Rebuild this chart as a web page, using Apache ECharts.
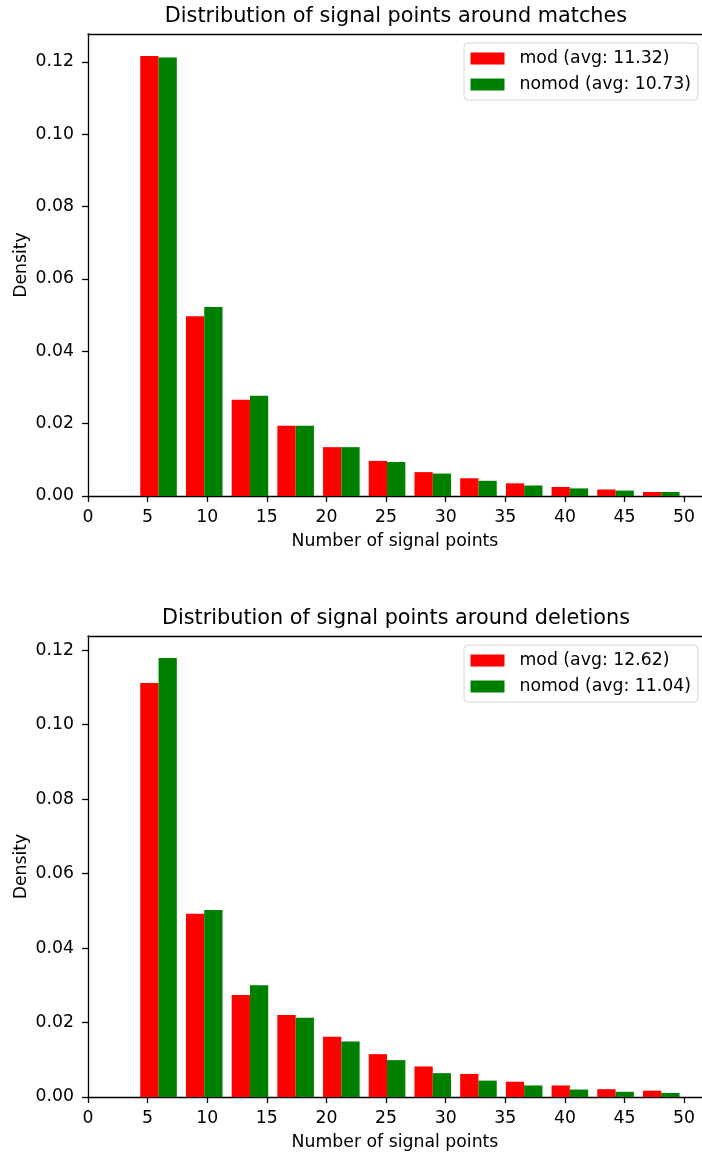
<!DOCTYPE html>
<html>
<head>
<meta charset="utf-8">
<script src="https://cdn.jsdelivr.net/npm/echarts@6/dist/echarts.min.js"></script>
<style>
  html, body { margin: 0; padding: 0; background: #ffffff; overflow: hidden; }
  #chart { width: 702px; height: 1153px; }
</style>
</head>
<body>
<div id="chart"></div>
<script>
// Histogram bin edges (12 bins from 4 to 50)
const binEdges = [4, 7.833, 11.667, 15.5, 19.333, 23.167, 27, 30.833, 34.667, 38.5, 42.333, 46.167, 50];

// Density per bin, around matches
const matchesMod   = [0.1216, 0.0497, 0.0266, 0.0194, 0.0135, 0.0097, 0.0066, 0.0049, 0.0035, 0.0025, 0.0018, 0.0011];
const matchesNomod = [0.1212, 0.0522, 0.0277, 0.0194, 0.0135, 0.0094, 0.0062, 0.0042, 0.0029, 0.0021, 0.0015, 0.0011];

// Density per bin, around deletions
const deletionsMod   = [0.1112, 0.0492, 0.0274, 0.0220, 0.0162, 0.0115, 0.0082, 0.0062, 0.0041, 0.0031, 0.0021, 0.0017];
const deletionsNomod = [0.1179, 0.0502, 0.0300, 0.0213, 0.0149, 0.0099, 0.0064, 0.0044, 0.0031, 0.0020, 0.0014, 0.0011];

const xTicks = [0, 5, 10, 15, 20, 25, 30, 35, 40, 45, 50];
const yTicks = [0, 0.02, 0.04, 0.06, 0.08, 0.10, 0.12];

const titles = ['Distribution of signal points around matches', 'Distribution of signal points around deletions'];
const legendMatches   = ['mod (avg: 11.32)', 'nomod (avg: 10.73)'];
const legendDeletions = ['mod (avg: 12.62)', 'nomod (avg: 11.04)'];

const FONT = 'DejaVu Sans';
const RED = '#ff0000';
const GREEN = '#008000';
const X_MAX = 51.5;

// Two side-by-side bars per bin, together filling 80% of the bin, centred
function barsFor(values, slot) {
  return values.map(function (v, i) {
    const a = binEdges[i], b = binEdges[i + 1], w = b - a;
    const start = a + w * (0.1 + 0.4 * slot);
    return [start, start + w * 0.4, v];
  });
}

function renderBar(params, api) {
  const top = api.coord([api.value(0), api.value(2)]);
  const base = api.coord([api.value(1), 0]);
  return {
    type: 'rect',
    shape: { x: top[0], y: top[1], width: base[0] - top[0], height: base[1] - top[1] },
    style: api.style()
  };
}

const tickStyle = { show: true, length: 6, lineStyle: { color: '#000', width: 1.3 } };
const lineStyle = { show: true, lineStyle: { color: '#000', width: 1.3 } };
const labelFont = { fontFamily: FONT, fontSize: 17.3, color: '#000' };

function bottomX(gridIndex) {
  return {
    type: 'value', gridIndex: gridIndex, position: 'bottom',
    min: 0, max: X_MAX,
    name: 'Number of signal points', nameLocation: 'middle', nameGap: 37,
    nameMoveOverlap: false,
    nameTextStyle: labelFont,
    axisLine: lineStyle,
    axisTick: Object.assign({ customValues: xTicks }, tickStyle),
    axisLabel: Object.assign({ customValues: xTicks, margin: 13 }, labelFont),
    splitLine: { show: false }
  };
}
function topX(gridIndex) {
  return {
    type: 'value', gridIndex: gridIndex, position: 'top',
    min: 0, max: X_MAX,
    axisLine: lineStyle, axisTick: { show: false }, axisLabel: { show: false },
    splitLine: { show: false }
  };
}
function leftY(gridIndex, maxVal) {
  return {
    type: 'value', gridIndex: gridIndex,
    min: 0, max: maxVal * 1.05,
    name: 'Density', nameLocation: 'middle', nameGap: 58,
    nameMoveOverlap: false,
    nameTextStyle: labelFont,
    axisLine: lineStyle,
    axisTick: Object.assign({ customValues: yTicks }, tickStyle),
    axisLabel: Object.assign({
      customValues: yTicks, margin: 14,
      formatter: function (v) { return v.toFixed(2); }
    }, labelFont),
    splitLine: { show: false }
  };
}

function legendAt(top, names) {
  return {
    orient: 'vertical', left: 464, top: top,
    data: names,
    icon: 'rect', itemWidth: 34, itemHeight: 12, itemGap: 6,
    padding: [5.5, 7, 5.5, 6.5],
    backgroundColor: 'rgba(255,255,255,0.8)',
    borderColor: '#d6d6d6', borderWidth: 1, borderRadius: 4,
    selectedMode: false,
    textStyle: { fontFamily: FONT, fontSize: 17.3, color: '#000', lineHeight: 20, padding: [0, 0, 0, 10] }
  };
}

function barSeries(name, values, slot, color, axisIndex) {
  return {
    type: 'custom', name: name,
    xAxisIndex: axisIndex, yAxisIndex: axisIndex / 2,
    renderItem: renderBar,
    encode: { x: [0, 1], y: 2 },
    itemStyle: { color: color },
    clip: true, silent: true,
    data: barsFor(values, slot)
  };
}

const chart = echarts.init(document.getElementById('chart'), null, { renderer: 'canvas' });
chart.setOption({
  animation: false,
  backgroundColor: '#ffffff',
  title: [
    { text: titles[0], left: 396, top: 5, textAlign: 'center', padding: 0,
      textStyle: { fontFamily: FONT, fontSize: 20.8, fontWeight: 'normal', color: '#000', lineHeight: 24 } },
    { text: titles[1], left: 396, top: 607, textAlign: 'center', padding: 0,
      textStyle: { fontFamily: FONT, fontSize: 20.8, fontWeight: 'normal', color: '#000', lineHeight: 24 } }
  ],
  legend: [legendAt(43, legendMatches), legendAt(645, legendDeletions)],
  grid: [
    { left: 88, top: 34, right: 0, height: 462 },
    { left: 88, top: 636, right: 0, height: 461 }
  ],
  xAxis: [bottomX(0), topX(0), bottomX(1), topX(1)],
  yAxis: [
    leftY(0, Math.max.apply(null, matchesMod.concat(matchesNomod))),
    leftY(1, Math.max.apply(null, deletionsMod.concat(deletionsNomod)))
  ],
  series: [
    barSeries(legendMatches[0], matchesMod, 0, RED, 0),
    barSeries(legendMatches[1], matchesNomod, 1, GREEN, 0),
    barSeries(legendDeletions[0], deletionsMod, 0, RED, 2),
    barSeries(legendDeletions[1], deletionsNomod, 1, GREEN, 2)
  ]
});
</script>
</body>
</html>
